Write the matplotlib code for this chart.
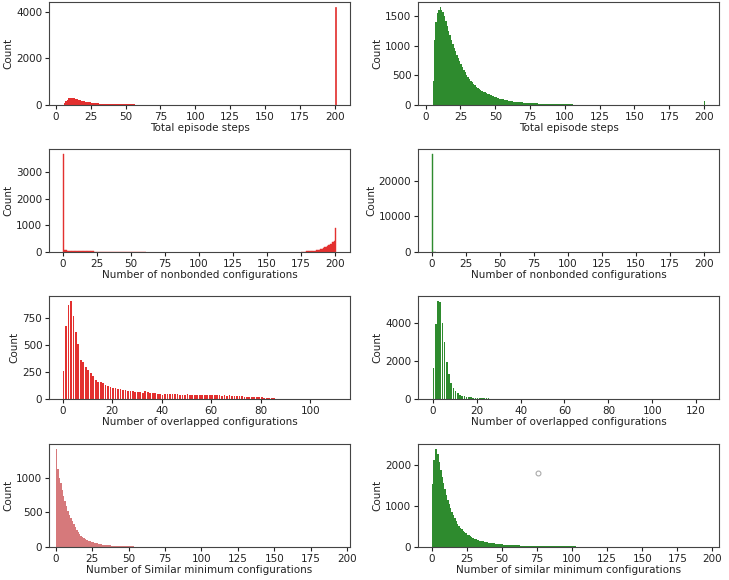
import matplotlib
matplotlib.use("Agg")
import matplotlib.pyplot as plt

# ---- data: bin counts per integer value ----
# total episode steps (left: red, right: green)
steps_red_start = 5
steps_red = [20, 80, 150, 230, 290, 310, 300, 290, 280, 260, 240, 220, 200, 185, 170, 155,
             140, 130, 120, 110, 100, 92, 85, 78, 72, 66,
             62, 58, 55, 52, 49, 46, 44, 42, 40, 38,
             36, 35, 34, 33, 32, 31, 30, 29, 28, 27,
             26, 25, 24, 23, 22, 21, 20, 19, 18, 17,
             16, 15, 15, 14, 13, 12, 12, 11, 10, 10,
             9, 9, 8, 8, 7, 6, 6, 5, 5, 5,
             4, 4, 4, 3, 3, 3, 3, 2, 2, 2,
             2, 2, 1, 1, 2, 1, 1, 1, 1, 1]
steps_red_spike_x = [200]
steps_red_spike = [4200]

steps_green_start = 5
steps_green = [400, 1100, 1400, 1550, 1600, 1650, 1600, 1560, 1500, 1420, 1330, 1250, 1170,
               1100, 1030, 960, 900, 840, 790, 740, 690, 640, 590, 550, 510, 470,
               440, 410, 380, 350, 330, 310, 290, 270, 255, 240,
               225, 210, 200, 190, 180, 170, 160, 150, 140, 130,
               122, 115, 108, 101, 95, 89, 84, 79, 74, 70,
               66, 62, 58, 55, 52, 49, 46, 44, 42, 40,
               38, 36, 34, 32, 30, 29, 28, 27, 26, 25,
               24, 23, 22, 21, 20, 19, 18, 17, 16, 15,
               15, 14, 14, 13, 13, 12, 12, 11, 11, 10,
               10, 10, 9, 9, 9, 8, 8, 8, 7, 7,
               7, 7, 6, 6, 6, 6, 5, 5, 5, 5,
               5, 4, 4, 4, 4, 4, 4, 3, 3, 3,
               3, 3, 3, 3, 3, 3, 2, 2, 2, 2,
               2, 2, 2, 2, 2, 2, 2, 2, 2, 2,
               1, 1, 1, 1, 1, 1, 1, 1, 1, 1]
steps_green_tail_x = [163, 168, 172, 177, 184, 190, 196, 200]
steps_green_tail = [1, 1, 1, 1, 1, 1, 1, 70]

# number of nonbonded configurations
nonb_red_x = [0] + list(range(1, 25)) + list(range(25, 61)) + list(range(175, 201))
nonb_red = ([3700] +
            [80, 60, 50, 45, 42, 40, 40, 38, 38, 36, 36, 35, 35, 34, 34, 33, 33, 32, 32, 30,
             25, 20, 18, 15] +
            [12, 10, 11, 9, 10, 8, 9, 8, 7, 8, 7, 6, 7, 6, 6, 5, 6, 5, 5, 4, 5, 4, 4, 3, 4,
             3, 3, 3, 2, 3, 2, 2, 2, 2, 1, 2] +
            [8, 10, 12, 15, 20, 25, 30, 35, 40, 48, 55, 65, 75, 90, 105, 125, 150, 175, 200,
             230, 260, 290, 320, 360, 400, 920])

nonb_green_x = [0, 1, 2, 200]
nonb_green = [27500, 40, 10, 2]

# number of overlapped configurations
over_red = [260, 680, 870, 910, 770, 620, 510, 360, 340, 300, 270,
            240, 210, 175, 160, 155, 145, 130, 120, 115, 105,
            100, 95, 90, 85, 80, 78, 75, 72, 68, 65,
            62, 60, 75, 65, 58, 55, 52, 48, 45, 42,
            44, 46, 48, 50, 46, 44, 42, 40, 42, 44,
            40, 38, 40, 38, 36, 38, 36, 34, 36, 35,
            34, 33, 34, 32, 33, 31, 34, 30, 28, 26,
            25, 24, 22, 22, 20, 20, 18, 17, 18, 15,
            12, 10, 8, 12, 6, 5, 4, 3, 2, 2,
            1, 1, 2, 1, 1, 0, 1, 0, 1, 0,
            0, 1, 0, 0, 1, 0, 0, 0, 0, 1]

over_green = [1650, 3950, 5150, 5100, 4000, 3000, 1950, 1300, 850, 600, 420,
              300, 230, 180, 150, 120, 100, 90, 80, 70, 60,
              50, 45, 40, 35, 30, 25, 18, 15, 12, 10,
              9, 8, 7, 6, 5, 5, 4, 4, 3, 3,
              3, 2, 2, 2, 2, 1, 1, 1, 1, 1]
over_green_tail_x = [52, 55, 58, 63, 67, 72, 80, 88, 95, 104, 112, 125]
over_green_tail = [1, 1, 1, 1, 1, 1, 1, 1, 1, 1, 1, 1]

# number of similar minimum configurations
sim_red = [1420, 1130, 1000, 920, 830, 740, 660, 590, 520, 470, 420,
           370, 330, 290, 250, 215, 190, 165, 145, 130, 115,
           100, 90, 82, 75, 70, 64, 58, 52, 48, 44,
           40, 36, 33, 30, 27, 25, 23, 21, 19, 18,
           17, 16, 15, 14, 13, 12, 12, 11, 10, 10,
           9, 8, 8, 7, 6, 6, 5, 5, 4, 4,
           4, 3, 3, 3, 3, 2, 2, 2, 2, 2, 2, 1, 1, 1, 1]
sim_red_tail_x = [80, 88, 97, 110, 125, 140, 160, 180]
sim_red_tail = [1, 1, 1, 1, 1, 1, 1, 1]

sim_green = [1530, 2100, 2380, 2370, 2250, 2050, 1880, 1700, 1550, 1400, 1270,
             1150, 1040, 940, 850, 770, 700, 630, 570, 520, 470,
             430, 390, 360, 330, 300, 280, 260, 240, 220, 205,
             190, 175, 165, 155, 145, 135, 128, 120, 113, 107,
             101, 96, 91, 86, 82, 78, 74, 70, 66, 63,
             60, 57, 54, 52, 50, 48, 46, 44, 42, 40,
             38, 37, 36, 35, 34, 33, 32, 31, 30, 29,
             28, 27, 26, 25, 24, 24, 23, 22, 21, 20,
             24, 23, 22, 22, 21, 21, 20, 20, 19, 19,
             18, 18, 17, 17, 16, 16, 15, 15, 14, 14,
             13, 13, 12, 12, 11, 11, 10, 10, 9, 9,
             8, 7, 6, 5, 4, 3, 3, 2, 2, 2]
sim_green_tail_x = [125, 130, 138, 145, 152, 160, 170, 182, 195]
sim_green_tail = [1, 2, 1, 1, 1, 1, 1, 1, 1]
stray_x = [76]
stray_y = [1800]

RED = "#e3302f"
LIGHT_RED = "#d6797b"
GREEN = "#2e8b2e"

plt.rcParams["font.size"] = 7.5
plt.rcParams["axes.linewidth"] = 0.8
plt.rcParams["xtick.major.size"] = 2.8
plt.rcParams["ytick.major.size"] = 2.8
plt.rcParams["text.color"] = "#222222"
plt.rcParams["axes.labelcolor"] = "#222222"
plt.rcParams["xtick.color"] = "#222222"
plt.rcParams["ytick.color"] = "#222222"
plt.rcParams["axes.edgecolor"] = "#444444"

fig = plt.figure(figsize=(7.29, 5.8), dpi=100)

lefts = [0.0672, 0.5734]
bottoms = [0.819, 0.5655, 0.312, 0.0569]
w, h = 0.413, 0.1776
axes = [[fig.add_axes([l, b, w, h]) for l in lefts] for b in bottoms]


def seq(start, vals):
    return list(range(start, start + len(vals)))


def bars(ax, x, y, color, width=1.0, lw=0):
    ax.bar(x, y, width=width, align="edge", color=color, edgecolor=color, linewidth=lw)


# row 1
ax = axes[0][0]
bars(ax, seq(steps_red_start, steps_red), steps_red, RED)
bars(ax, steps_red_spike_x, steps_red_spike, RED, lw=0.5)
ax.set_xlim(-4.8, 210.8)
ax.set_xticks(range(0, 201, 25))
ax.set_yticks([0, 2000, 4000])
ax.set_xlabel("Total episode steps", labelpad=1)

ax = axes[0][1]
bars(ax, seq(steps_green_start, steps_green), steps_green, GREEN)
bars(ax, steps_green_tail_x, steps_green_tail, GREEN)
ax.set_xlim(-5.5, 210.8)
ax.set_xticks(range(0, 201, 25))
ax.set_yticks([0, 500, 1000, 1500])
ax.set_xlabel("Total episode steps", labelpad=1)

# row 2
ax = axes[1][0]
bars(ax, nonb_red_x, nonb_red, RED, lw=0.3)
ax.set_xlim(-10, 211)
ax.set_xticks(range(0, 201, 25))
ax.set_yticks([0, 1000, 2000, 3000])
ax.set_xlabel("Number of nonbonded configurations", labelpad=1)

ax = axes[1][1]
bars(ax, nonb_green_x, nonb_green, GREEN, lw=0.3)
ax.set_xlim(-10, 211)
ax.set_xticks(range(0, 201, 25))
ax.set_yticks([0, 10000, 20000])
ax.set_xlabel("Number of nonbonded configurations", labelpad=1)

# row 3
ax = axes[2][0]
bars(ax, seq(0, over_red), over_red, RED, width=0.7)
ax.set_xlim(-5.5, 116)
ax.set_xticks(range(0, 101, 20))
ax.set_yticks([0, 250, 500, 750])
ax.set_xlabel("Number of overlapped configurations", labelpad=1)

ax = axes[2][1]
bars(ax, seq(0, over_green), over_green, GREEN, width=0.7)
bars(ax, over_green_tail_x, over_green_tail, GREEN, width=0.7)
ax.set_xlim(-6.8, 130.5)
ax.set_xticks(range(0, 121, 20))
ax.set_yticks([0, 2000, 4000])
ax.set_xlabel("Number of overlapped configurations", labelpad=1)

# row 4
ax = axes[3][0]
bars(ax, seq(0, sim_red), sim_red, LIGHT_RED)
bars(ax, sim_red_tail_x, sim_red_tail, LIGHT_RED)
ax.set_xlim(-4.6, 202)
ax.set_xticks(range(0, 201, 25))
ax.set_yticks([0, 500, 1000])
ax.set_xlabel("Number of Similar minimum configurations", labelpad=1)

ax = axes[3][1]
bars(ax, seq(0, sim_green), sim_green, GREEN)
bars(ax, sim_green_tail_x, sim_green_tail, GREEN)
ax.plot(stray_x, stray_y, "o", mfc="none", mec="#aaaaaa", ms=3.5, mew=0.8)
ax.set_xlim(-9.75, 204.75)
ax.set_xticks(range(0, 201, 25))
ax.set_yticks([0, 1000, 2000])
ax.set_xlabel("Number of similar minimum configurations", labelpad=1)

for row in axes:
    for ax in row:
        ax.set_ylabel("Count", labelpad=2)
        ax.tick_params(pad=2)

fig.savefig("out.png", dpi=100)
plt.close(fig)
